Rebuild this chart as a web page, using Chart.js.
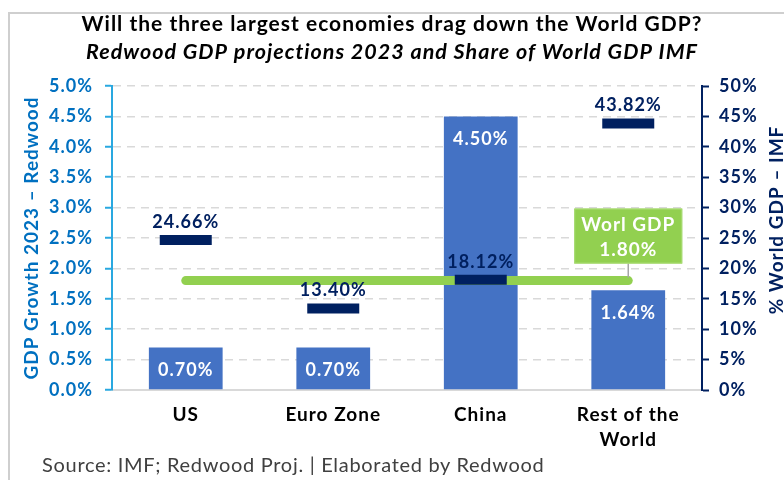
<!DOCTYPE html>
<html>
<head>
<meta charset="utf-8">
<script src="https://cdn.jsdelivr.net/npm/chart.js@4"></script>
<style>
  body { margin: 0; background: #fff; }
  #wrap { position: relative; width: 784px; height: 480px; overflow: hidden; }
  #frame { position: absolute; left: 8px; top: 12px; width: 800px; height: 500px; border: 2px solid #cfcfcf; box-sizing: border-box; }
  #source { position: absolute; left: 42px; top: 452px; font-family: Lato, sans-serif; font-size: 20px; letter-spacing: 0.7px; color: #404040; white-space: nowrap; }
  canvas { position: absolute; left: 0; top: 0; }
</style>
</head>
<body>
<div id="wrap">
  <div id="frame"></div>
  <canvas id="gdpChart" width="784" height="480"></canvas>
  <div id="source">Source: IMF; Redwood Proj. | Elaborated by Redwood</div>
</div>
<script>
// data
const categories = ['US', 'Euro Zone', 'China', ['Rest of the', 'World']];
const gdpGrowth = [0.70, 0.70, 4.50, 1.64];        // % growth 2023, left axis
const worldShare = [24.66, 13.40, 18.12, 43.82];   // % of world GDP, right axis
const worldGrowth = [1.80, 1.80, 1.80, 1.80];      // world GDP growth line
const growthTicks = { min: 0, max: 5, step: 0.5 };
const shareTicks = { min: 0, max: 50, step: 5 };

const FONT = 'Lato, sans-serif';
const NAVY = '#002060';
const BLUE = '#0070c0';
const GREEN = '#92d050';

// wider text, closer to the original typeface
const spacingPlugin = {
    id: 'spacingPlugin',
    beforeDraw(chart) { chart.ctx.letterSpacing = '1px'; }
};

const labelsPlugin = {
    id: 'labelsPlugin',
    afterDatasetsDraw(chart) {
        const ctx = chart.ctx;
        ctx.save();
        ctx.textAlign = 'center';
        ctx.textBaseline = 'middle';
        ctx.font = 'bold 18px ' + FONT;

        // values inside the bars, near the top
        const barMeta = chart.getDatasetMeta(2);
        barMeta.data.forEach((bar, i) => {
            ctx.fillStyle = '#fff';
            ctx.fillText(gdpGrowth[i].toFixed(2) + '%', bar.x, bar.y + 23);
        });

        // share labels above the navy markers
        const shareMeta = chart.getDatasetMeta(0);
        shareMeta.data.forEach((pt, i) => {
            ctx.fillStyle = NAVY;
            ctx.fillText(worldShare[i].toFixed(2) + '%', pt.x, pt.y - 18);
        });

        // callout for world GDP line
        const lineMeta = chart.getDatasetMeta(1);
        const last = lineMeta.data[lineMeta.data.length - 1];
        const bw = 108, bh = 55;
        const bx = last.x - bw / 2, by = last.y - 17 - bh;
        ctx.strokeStyle = '#a6a6a6';
        ctx.lineWidth = 1.5;
        ctx.beginPath();
        ctx.moveTo(last.x, last.y - 3);
        ctx.lineTo(last.x, by + bh);
        ctx.stroke();
        ctx.fillStyle = GREEN;
        ctx.fillRect(bx, by, bw, bh);
        ctx.strokeStyle = '#a9dc74';
        ctx.lineWidth = 1;
        ctx.strokeRect(bx + 0.5, by + 0.5, bw - 1, bh - 1);
        ctx.fillStyle = '#fff';
        ctx.font = 'bold 19px ' + FONT;
        ctx.fillText('Worl GDP', last.x, by + 16);
        ctx.fillText(worldGrowth[worldGrowth.length - 1].toFixed(2) + '%', last.x, by + 41);

        // right axis title, reading bottom to top
        const area = chart.chartArea;
        ctx.save();
        ctx.translate(777, (area.top + area.bottom) / 2 - 18);
        ctx.rotate(-Math.PI / 2);
        ctx.fillStyle = NAVY;
        ctx.font = 'bold 19px ' + FONT;
        ctx.fillText('% World GDP \u2013 IMF', 0, 0);
        ctx.restore();

        ctx.restore();
    }
};

new Chart(document.getElementById('gdpChart'), {
    data: {
        labels: categories,
        datasets: [
            {
                type: 'line',
                label: 'Share of World GDP',
                data: worldShare,
                yAxisID: 'y2',
                showLine: false,
                pointStyle: 'line',
                pointRadius: 26,
                pointBorderWidth: 10,
                borderColor: NAVY,
                backgroundColor: NAVY,
                order: 0
            },
            {
                type: 'line',
                label: 'World GDP',
                data: worldGrowth,
                yAxisID: 'y',
                borderColor: GREEN,
                borderWidth: 9,
                borderCapStyle: 'round',
                pointRadius: 0,
                order: 1
            },
            {
                type: 'bar',
                label: 'GDP Growth 2023',
                data: gdpGrowth,
                yAxisID: 'y',
                backgroundColor: '#4472c4',
                categoryPercentage: 1,
                barPercentage: 0.5,
                order: 2
            }
        ]
    },
    options: {
        responsive: false,
        animation: false,
        events: [],
        layout: { padding: { left: 0, right: 0, top: 8, bottom: 0 } },
        plugins: {
            legend: { display: false },
            tooltip: { enabled: false },
            title: {
                display: true,
                text: 'Will the three largest economies drag down the World GDP?',
                color: '#000',
                font: { family: FONT, size: 21, weight: 'bold' },
                padding: { top: 4, bottom: 2 }
            },
            subtitle: {
                display: true,
                text: 'Redwood GDP projections 2023 and Share of World GDP IMF',
                color: '#000',
                font: { family: FONT, size: 21.5, weight: 'bold', style: 'italic' },
                padding: { top: 0, bottom: 21 }
            }
        },
        scales: {
            x: {
                offset: true,
                grid: { display: false, drawTicks: false },
                border: { color: '#d9d9d9', width: 2 },
                ticks: {
                    color: '#000',
                    padding: 13,
                    font: { family: FONT, size: 19, weight: 'bold', lineHeight: 1.3 }
                },
                afterFit(scale) { scale.height = 90; }
            },
            y: {
                position: 'left',
                min: growthTicks.min,
                max: growthTicks.max,
                ticks: {
                    stepSize: growthTicks.step,
                    color: BLUE,
                    padding: 12,
                    font: { family: FONT, size: 18, weight: 'bold' },
                    callback: v => v.toFixed(1) + '%'
                },
                grid: { color: '#d9d9d9', lineWidth: 1.5, tickColor: '#29a8e0', tickLength: 7, tickWidth: 2 },
                border: { color: '#29a8e0', width: 2, dash: [8, 6] },
                title: {
                    display: true,
                    text: 'GDP Growth 2023 \u2013 Redwood',
                    color: BLUE,
                    font: { family: FONT, size: 19, weight: 'bold' },
                    padding: { top: 20, bottom: 0 }
                },
                afterFit(scale) { scale.width = 112; }
            },
            y2: {
                position: 'right',
                min: shareTicks.min,
                max: shareTicks.max,
                ticks: {
                    stepSize: shareTicks.step,
                    color: NAVY,
                    padding: 10,
                    font: { family: FONT, size: 18, weight: 'bold' },
                    callback: v => v + '%'
                },
                grid: { drawOnChartArea: false, tickColor: NAVY, tickLength: 7, tickWidth: 2 },
                border: { color: NAVY, width: 2 },
                afterFit(scale) { scale.width = 82; }
            }
        }
    },
    plugins: [spacingPlugin, labelsPlugin]
});
</script>
</body>
</html>
